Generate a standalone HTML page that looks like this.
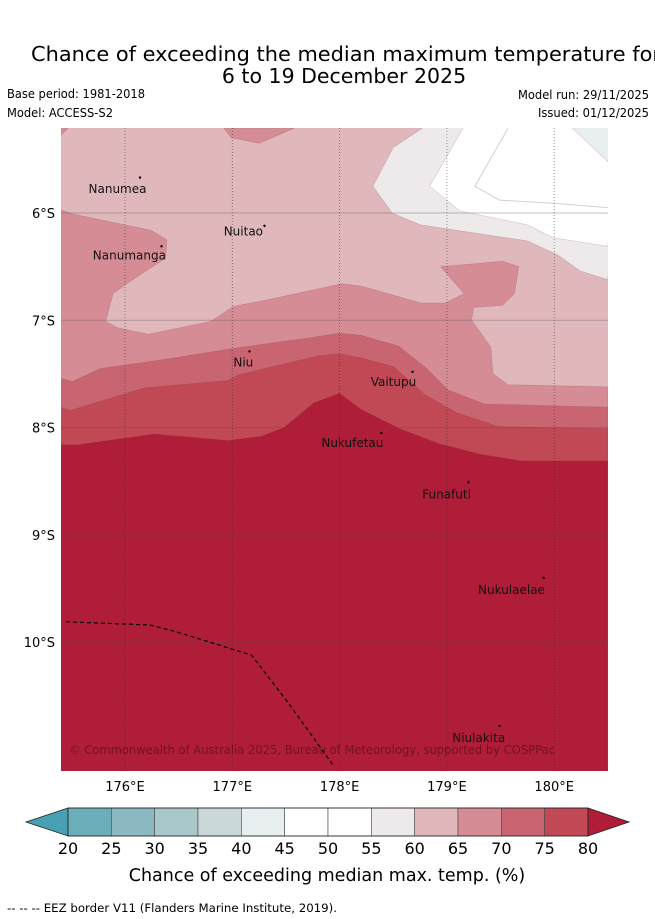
<!DOCTYPE html>
<html><head><meta charset="utf-8"><style>
body{margin:0;background:#fff;}
svg{display:block;font-family:"DejaVu Sans","Liberation Sans",sans-serif;}
</style></head><body>
<svg id="chart" width="655" height="919" viewBox="0 0 655 919" xmlns="http://www.w3.org/2000/svg">
<text x="31" y="61" font-size="20.5" fill="#000" textLength="630" lengthAdjust="spacingAndGlyphs">Chance of exceeding the median maximum temperature for</text>
<text x="344" y="83" font-size="20.5" text-anchor="middle" fill="#000">6 to 19 December 2025</text>
<text x="7" y="98" font-size="12" textLength="138" lengthAdjust="spacingAndGlyphs">Base period: 1981-2018</text>
<text x="7" y="117" font-size="12" textLength="106" lengthAdjust="spacingAndGlyphs">Model: ACCESS-S2</text>
<text x="649" y="99" font-size="12" text-anchor="end" textLength="131" lengthAdjust="spacingAndGlyphs">Model run: 29/11/2025</text>
<text x="649" y="117" font-size="12" text-anchor="end" textLength="111" lengthAdjust="spacingAndGlyphs">Issued: 01/12/2025</text>
<clipPath id="mapclip"><rect x="61" y="128" width="547" height="643"/></clipPath>
<g id="map" clip-path="url(#mapclip)"></g>
<g id="axes"></g>
<g id="cbar"></g>
<text x="327" y="881" font-size="17.5" text-anchor="middle">Chance of exceeding median max. temp. (%)</text>
<text x="7" y="912" font-size="11.5" textLength="330" lengthAdjust="spacingAndGlyphs">--  --  -- EEZ border V11 (Flanders Marine Institute, 2019).</text>
</svg>
<script>
// ---- data ----
const lonTicks=[176,177,178,179,180];
const latTicks=[6,7,8,9,10];
const cbarLevels=[20,25,30,35,40,45,50,55,60,65,70,75,80];
const cbarColors=["#6aaeba","#8ab9c4","#a9c8cc","#cbd8da","#e9eff1","#ffffff","#ffffff","#eeeaeb","#e0b8bc","#d58c94","#c96570","#c04955"];
const lowColor="#47a1b2", highColor="#b01d38";
const baseColor="#e0b8bc";
// contour region polygons [lon, lat(S)]
const region6570TopLeft=[[175.40,5.97],[175.52,6.01],[175.90,6.09],[176.24,6.16],[176.39,6.25],[176.38,6.42],[176.24,6.51],[176.03,6.65],[175.89,6.75],[175.82,7.01],[175.93,7.07],[176.22,7.13],[176.80,7.01],[177.01,6.87],[177.27,6.82],[178.02,6.66],[178.20,6.68],[178.76,6.84],[178.98,6.84],[179.16,6.75],[178.94,6.50],[179.52,6.45],[179.67,6.50],[179.63,6.75],[179.52,6.86],[179.25,6.88],[179.23,7.00],[179.41,7.25],[179.43,7.50],[179.57,7.60],[180.50,7.62],[180.5,11.3],[175.4,11.3]];
const region6570TopPatch=[[176.92,5.21],[176.99,5.30],[177.25,5.35],[177.58,5.21]];
const region6570Corner=[[175.40,5.21],[175.47,5.21],[175.40,5.28]];
const region7075=[[175.40,7.54],[175.51,7.57],[175.77,7.45],[176.33,7.37],[177.02,7.26],[177.74,7.16],[178.00,7.12],[178.20,7.14],[178.55,7.24],[178.80,7.44],[179.01,7.65],[179.35,7.78],[180.50,7.81],[180.5,11.3],[175.4,11.3]];
const region7580=[[175.40,7.81],[175.49,7.84],[176.18,7.63],[176.96,7.56],[177.05,7.51],[177.80,7.33],[178.00,7.31],[178.20,7.35],[178.50,7.43],[178.79,7.69],[179.09,7.86],[179.48,7.99],[180.50,8.01],[180.5,11.3],[175.4,11.3]];
const region80=[[175.40,8.16],[175.56,8.16],[176.27,8.06],[176.96,8.12],[177.27,8.08],[177.48,8.00],[177.76,7.77],[178.00,7.68],[178.20,7.83],[178.56,8.01],[178.93,8.15],[179.32,8.25],[179.70,8.31],[180.50,8.31],[180.5,11.3],[175.4,11.3]];
const region5560=[[178.77,5.21],[178.50,5.39],[178.31,5.75],[178.49,6.00],[178.75,6.11],[179.75,6.26],[180.03,6.39],[180.24,6.54],[180.50,6.62],[180.6,5.1],[178.77,5.1]];
const region5055=[[179.15,5.21],[178.84,5.75],[179.12,5.98],[179.75,6.11],[179.99,6.23],[180.50,6.31],[180.6,5.1],[179.15,5.1]];
const contour4550=[[179.57,5.21],[179.26,5.75],[179.49,5.88],[179.99,5.91],[180.50,5.95]];
const region4045=[[180.17,5.21],[180.50,5.52],[180.6,5.1]];
const eezLine=[[175.45,9.81],[176.23,9.84],[176.47,9.90],[177.18,10.12],[177.54,10.59],[177.95,11.16]];
// name, marker lon, marker lat, label lon, label lat
const islands=[["Nanumea",176.14,5.67,175.66,5.77],["Nuitao",177.30,6.12,176.92,6.17],["Nanumanga",176.34,6.31,175.70,6.39],["Niu",177.16,7.29,177.01,7.39],["Vaitupu",178.68,7.48,178.29,7.57],["Nukufetau",178.39,8.05,177.83,8.14],["Funafuti",179.20,8.51,178.77,8.62],["Nukulaelae",179.90,9.40,179.29,9.51],["Niulakita",179.49,10.78,179.05,10.89]];

// ---- axes ----
const X0=125, Y0=213, K=107.3;
const xs=lon=>X0+(lon-176)*K;
const ys=lat=>Y0+(lat-6)*K;
const NS="http://www.w3.org/2000/svg";
function mk(tag,parent){const e=document.createElementNS(NS,tag);parent.appendChild(e);return e;}
const map=document.getElementById('map'), axes=document.getElementById('axes'), cbar=document.getElementById('cbar');
const pts=a=>a.map(p=>xs(p[0]).toFixed(1)+','+ys(p[1]).toFixed(1)).join(' ');

let bg=mk('rect',map);


bg.setAttribute('x',61);bg.setAttribute('y',128);bg.setAttribute('width',547);bg.setAttribute('height',643);bg.setAttribute('fill',baseColor);

function poly(arr,fill,name){
  const p=mk('polygon',map);
  
  
  p.setAttribute('points',pts(arr));p.setAttribute('fill',fill);
  p.setAttribute('stroke','rgba(120,60,70,0.25)');p.setAttribute('stroke-width','0.6');
}
poly(region5560,"#eeeaeb","region-55-60");
poly(region5055,"#ffffff","region-50-55");
poly(region4045,"#e9eef0","region-40-45");
poly(region6570Corner,"#d58c94","region-65-70-corner");
poly(region6570TopPatch,"#d58c94","region-65-70-top");
poly(region6570TopLeft,"#d58c94","region-65-70");
poly(region7075,"#c96570","region-70-75");
poly(region7580,"#c04955","region-75-80");
poly(region80,"#b01d38","region-80-plus");
let c45=mk('polyline',map);


c45.setAttribute('points',pts(contour4550));c45.setAttribute('fill','none');c45.setAttribute('stroke','#c8d6d8');c45.setAttribute('stroke-width','1');

// gridlines
lonTicks.forEach(l=>{const g=mk('line',map);
  
  
  g.setAttribute('x1',xs(l));g.setAttribute('x2',xs(l));g.setAttribute('y1',128);g.setAttribute('y2',771);
  g.setAttribute('stroke','rgba(40,40,40,0.6)');g.setAttribute('stroke-width','0.8');g.setAttribute('stroke-dasharray','1,2');});
latTicks.forEach(l=>{const g=mk('line',map);
  
  
  g.setAttribute('x1',61);g.setAttribute('x2',608);g.setAttribute('y1',ys(l));g.setAttribute('y2',ys(l));
  g.setAttribute('stroke','rgba(80,80,80,0.35)');g.setAttribute('stroke-width','1');});

// EEZ
let ez=mk('polyline',map);


ez.setAttribute('points',pts(eezLine));ez.setAttribute('fill','none');ez.setAttribute('stroke','#000');ez.setAttribute('stroke-width','1.2');ez.setAttribute('stroke-dasharray','4,3');

// islands
islands.forEach(d=>{
  const m=mk('circle',map);
  
  
  m.setAttribute('cx',xs(d[1]));m.setAttribute('cy',ys(d[2]));m.setAttribute('r',1.2);m.setAttribute('fill','#000');
  const t=mk('text',map);
  
  
  t.setAttribute('x',xs(d[3]));t.setAttribute('y',ys(d[4])+4.5);t.setAttribute('font-size','12');t.setAttribute('fill','#111');t.textContent=d[0];
});
let cp=mk('text',map);


cp.setAttribute('x',69);cp.setAttribute('y',754);cp.setAttribute('font-size','12');cp.setAttribute('textLength','486');cp.setAttribute('lengthAdjust','spacingAndGlyphs');cp.setAttribute('fill','#5a1020');cp.setAttribute('fill-opacity','0.75');
cp.textContent='© Commonwealth of Australia 2025, Bureau of Meteorology, supported by COSPPac';

// tick labels
lonTicks.forEach(l=>{const t=mk('text',axes);
  
  
  t.setAttribute('x',xs(l));t.setAttribute('y',791);t.setAttribute('font-size','13');t.setAttribute('text-anchor','middle');t.textContent=l+'°E';});
latTicks.forEach(l=>{const t=mk('text',axes);
  
  
  t.setAttribute('x',55);t.setAttribute('y',ys(l)+5);t.setAttribute('font-size','13');t.setAttribute('text-anchor','end');t.textContent=l+'°S';});

// colorbar
const CB0=68, CB1=588, CBY=808, CBH=28;
const cx=v=>CB0+(v-cbarLevels[0])/(cbarLevels[cbarLevels.length-1]-cbarLevels[0])*(CB1-CB0);
let lt=mk('polygon',cbar);


lt.setAttribute('points',`${CB0},${CBY} 26,${CBY+CBH/2} ${CB0},${CBY+CBH}`);lt.setAttribute('fill',lowColor);lt.setAttribute('stroke','#222');lt.setAttribute('stroke-width','0.8');
let ht=mk('polygon',cbar);


ht.setAttribute('points',`${CB1},${CBY} 629,${CBY+CBH/2} ${CB1},${CBY+CBH}`);ht.setAttribute('fill',highColor);ht.setAttribute('stroke','#222');ht.setAttribute('stroke-width','0.8');
cbarColors.forEach((c,i)=>{const r=mk('rect',cbar);
  
  
  const a=cx(cbarLevels[i]),b=cx(cbarLevels[i+1]);
  r.setAttribute('x',a);r.setAttribute('y',CBY);r.setAttribute('width',b-a);r.setAttribute('height',CBH);r.setAttribute('fill',c);r.setAttribute('stroke','#444');r.setAttribute('stroke-width','0.6');});
cbarLevels.forEach(v=>{const t=mk('text',cbar);
  
  
  t.setAttribute('x',cx(v));t.setAttribute('y',854);t.setAttribute('font-size','16');t.setAttribute('text-anchor','middle');t.textContent=v;});
let ob=mk('rect',cbar);


ob.setAttribute('x',CB0);ob.setAttribute('y',CBY);ob.setAttribute('width',CB1-CB0);ob.setAttribute('height',CBH);ob.setAttribute('fill','none');ob.setAttribute('stroke','#222');ob.setAttribute('stroke-width','0.8');
</script>
</body></html>
